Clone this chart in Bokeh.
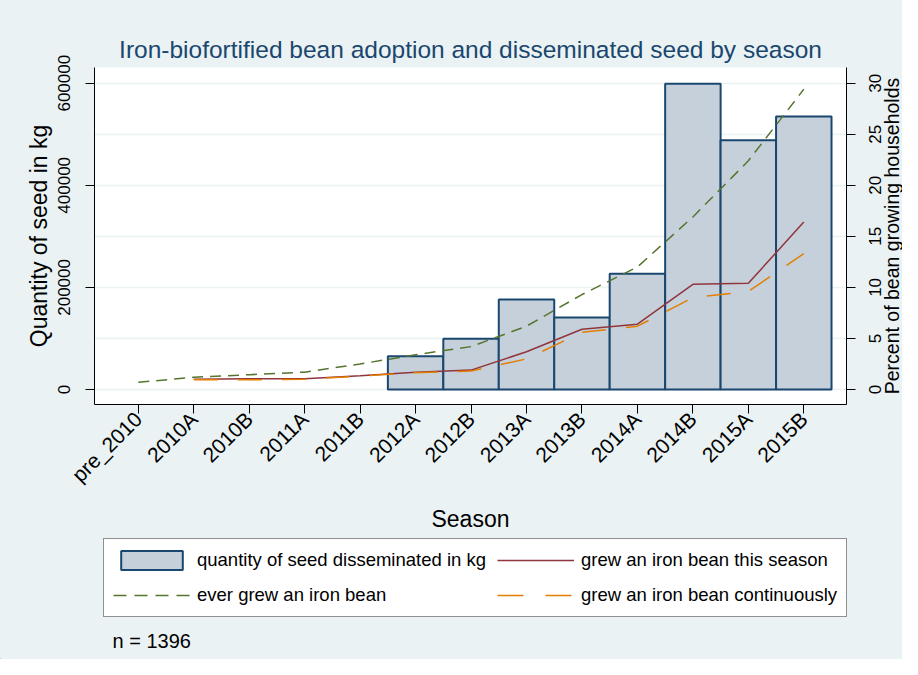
import math
from bokeh.plotting import figure
from bokeh.layouts import column, row
from bokeh.core.properties import value
from bokeh.models import (Range1d, LinearAxis, FixedTicker, NumeralTickFormatter,
                          Legend, LegendItem, Label)
from bokeh.embed import file_html
from bokeh.resources import INLINE

# ---- data ----
seasons = ["pre_2010", "2010A", "2010B", "2011A", "2011B", "2012A", "2012B",
           "2013A", "2013B", "2014A", "2014B", "2015A", "2015B"]
bar_seasons = ["2012A", "2012B", "2013A", "2013B", "2014A", "2014B", "2015A", "2015B"]
seed_kg = [65000, 99500, 176500, 141000, 226500, 599000, 488000, 535000]
ever_grew = [0.7, 1.2, 1.45, 1.7, 2.5, 3.4, 4.2, 6.2, 9.3, 12.0, 16.9, 22.4, 29.4]
line_seasons = seasons[1:]
grew_this_season = [1.0, 1.05, 1.05, 1.35, 1.7, 1.9, 3.7, 5.9, 6.4, 10.3, 10.4, 16.4]
grew_continuously = [0.95, 0.95, 1.0, 1.3, 1.65, 1.8, 3.0, 5.6, 6.2, 9.0, 9.6, 13.3]
left_ticks = [0, 200000, 400000, 600000]
right_ticks = [0, 5, 10, 15, 20, 25, 30]
kg_per_pct = 20000

pos = {s: i for i, s in enumerate(seasons)}
bar_x = [pos[s] for s in bar_seasons]
all_x = [pos[s] for s in seasons]
line_x = [pos[s] for s in line_seasons]

FONT = "Liberation Sans"
BG = "#eaf2f3"
NAVY = "#1a476f"
BAR_FILL = "#c6d0db"
GREEN = "#55752f"
RED = "#90353b"
ORANGE = "#e37e00"

# ---- layout geometry ----
TOTAL_W, TOTAL_H = 902, 659
MAIN_W, MAIN_H = 866, 535
B_LEFT, B_RIGHT, B_TOP, B_BOTTOM = 94, 20, 67, 131

y_lo, y_hi = -29400, 630750
pct_range = Range1d(y_lo / kg_per_pct, y_hi / kg_per_pct)

p = figure(width=MAIN_W, height=MAIN_H, output_backend="svg", toolbar_location=None,
           x_range=Range1d(-0.79, 12.77), y_range=Range1d(y_lo, y_hi),
           min_border_left=B_LEFT, min_border_right=B_RIGHT, min_border_top=B_TOP,
           min_border_bottom=B_BOTTOM,
           background_fill_color="white", border_fill_color=BG,
           outline_line_color=None)

p.title.text = "Iron-biofortified bean adoption and disseminated seed by season"
p.title.text_font = FONT
p.title.text_font_size = "24.5px"
p.title.text_font_style = "normal"
p.title.text_color = NAVY
p.title.align = "center"
p.title.standoff = 10

p.extra_y_ranges = {"pct": pct_range}

p.vbar(x=bar_x, top=seed_kg, width=1.0, bottom=0,
       fill_color=BAR_FILL, line_color=NAVY, line_width=2)
p.line(all_x, ever_grew, y_range_name="pct", line_color=GREEN,
       line_width=1.5, line_dash="11 7")
p.line(line_x, grew_this_season, y_range_name="pct", line_color=RED, line_width=1.5)
p.line(line_x, grew_continuously, y_range_name="pct", line_color=ORANGE,
       line_width=1.5, line_dash="24 20")

# x axis
xa = p.xaxis[0]
xa.ticker = FixedTicker(ticks=all_x)
xa.major_label_overrides = {i: s for i, s in enumerate(seasons)}
xa.major_label_orientation = math.pi / 4
xa.axis_label = "Season"
p.xgrid.visible = False

# left axis
ya = p.yaxis[0]
ya.ticker = FixedTicker(ticks=left_ticks)
ya.formatter = NumeralTickFormatter(format="0")
ya.major_label_orientation = "vertical"
ya.axis_label = "Quantity of seed in kg"
p.ygrid.ticker = FixedTicker(ticks=[t * kg_per_pct for t in right_ticks])
p.ygrid.grid_line_color = BG
p.ygrid.grid_line_width = 1.5

# right axis (ticks only; its texts are drawn in the side panel)
ra = LinearAxis(y_range_name="pct", ticker=FixedTicker(ticks=right_ticks))
ra.major_label_overrides = {t: "" for t in right_ticks}
ra.major_label_text_font_size = "0px"
ra.major_label_standoff = 0
p.add_layout(ra, "right")

for ax in [xa, ya, ra]:
    ax.axis_line_color = "black"
    ax.major_tick_line_color = "black"
    ax.major_tick_out = 9
    ax.major_tick_in = 0
    ax.minor_tick_line_color = None
    ax.axis_label_text_font = FONT
    ax.axis_label_text_font_size = "23px"
    ax.axis_label_text_font_style = "normal"
    ax.axis_label_text_color = "black"

for ax in [xa, ya]:
    ax.major_label_text_font = FONT
    ax.major_label_text_color = "black"

xa.major_label_text_font_size = "21px"
xa.major_label_standoff = 2
xa.axis_label_standoff = 8
ya.major_label_text_font_size = "17px"
ya.major_label_standoff = 15
ya.axis_label_standoff = 4

# ---- right side panel: tick labels and title of the percent axis ----
SIDE_W = TOTAL_W - MAIN_W
side = figure(width=SIDE_W, height=MAIN_H, output_backend="svg", toolbar_location=None,
              x_range=Range1d(0, SIDE_W), y_range=pct_range,
              x_axis_type=None, y_axis_type=None, min_border=0,
              background_fill_color=BG, border_fill_color=BG, outline_line_color=None)
side.grid.visible = False
side.text(x=[8.5] * len(right_ticks), y=right_ticks, text=[str(t) for t in right_ticks],
          angle=math.pi / 2, text_align="center", text_baseline="middle",
          text_font=value(FONT), text_font_size="17px", text_color="black")
side.add_layout(Label(x=25.5, y=(pct_range.start + pct_range.end) / 2, x_units="screen",
                      text="Percent of bean growing households", angle=math.pi / 2,
                      text_align="center", text_baseline="middle", text_font=FONT,
                      text_font_size="19.5px", text_color="black"))

# ---- bottom panel: legend and note ----
BOT_H = TOTAL_H - MAIN_H
bot = figure(width=TOTAL_W, height=BOT_H, output_backend="svg", toolbar_location=None,
             x_range=Range1d(0, TOTAL_W), y_range=Range1d(0, BOT_H),
             x_axis_type=None, y_axis_type=None, min_border=0,
             background_fill_color=BG, border_fill_color=BG, outline_line_color=None)
bot.grid.visible = False
# legend keys only (their single point lies outside the visible range)
k_bar = bot.vbar(x=[-500], top=[-500], bottom=[-600], width=1,
                 fill_color=BAR_FILL, line_color=NAVY, line_width=2)
k_this = bot.line(x=[-500, -499], y=[-500, -500], line_color=RED, line_width=1.5)
k_ever = bot.line(x=[-500, -499], y=[-500, -500], line_color=GREEN, line_width=1.5,
                  line_dash="13 8")
k_cont = bot.line(x=[-500, -499], y=[-500, -500], line_color=ORANGE, line_width=1.5,
                  line_dash="26 22")

legend = Legend(items=[
    LegendItem(label="quantity of seed disseminated in kg", renderers=[k_bar]),
    LegendItem(label="grew an iron bean this season", renderers=[k_this]),
    LegendItem(label="ever grew an iron bean", renderers=[k_ever]),
    LegendItem(label="grew an iron bean continuously", renderers=[k_cont]),
], orientation="horizontal", ncols=2, location=(103, 42))
legend.label_text_font = FONT
legend.label_text_font_size = "18.5px"
legend.label_text_color = "black"
legend.glyph_width = 77
legend.glyph_height = 24
legend.label_standoff = 7
legend.spacing = 11
legend.padding = 9
legend.margin = 0
legend.border_line_color = "#222222"
legend.border_line_width = 1.5
legend.background_fill_color = "white"
legend.background_fill_alpha = 1
bot.add_layout(legend, "center")

bot.add_layout(Label(x=112, y=19, x_units="screen", y_units="screen", text="n = 1396",
                     text_font=FONT, text_font_size="20px", text_color="black",
                     text_baseline="middle", text_align="left"))

layout = column(row(p, side, styles={"background-color": BG}), bot,
                styles={"background-color": BG})
open("out.html", "w").write(file_html(layout, INLINE))
